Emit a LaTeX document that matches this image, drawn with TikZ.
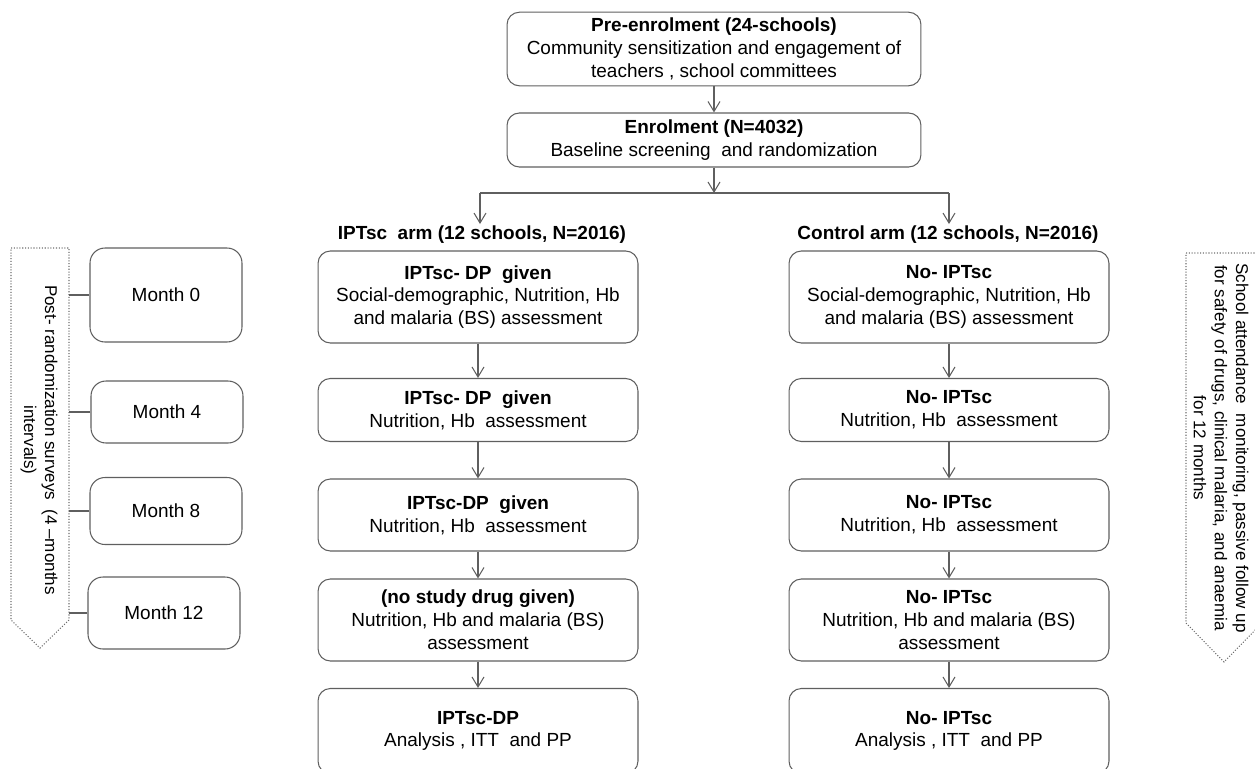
\documentclass[tikz,border=0pt]{standalone}
\usepackage{fontspec}
\setmainfont{Liberation Sans}
\usepackage{tikz}
\definecolor{flowgray}{RGB}{95,95,95}
\definecolor{dotgray}{RGB}{110,110,110}
\usetikzlibrary{positioning,calc,arrows.meta}

\begin{document}
\begin{tikzpicture}[x=0.02cm,y=-0.02cm,
  box/.style={draw=flowgray,rounded corners=7pt,line width=0.6pt,minimum width=6.4cm,align=center,font=\fontsize{10.8}{13}\selectfont},
  monthbox/.style={draw=flowgray,rounded corners=8.5pt,line width=0.6pt,minimum width=3.04cm,font=\fontsize{10.8}{13}\selectfont},
  head/.style={inner sep=1pt,font=\fontsize{10.8}{13}\selectfont\bfseries},
  side/.style={draw=dotgray,densely dotted,line width=0.6pt},
  sidetext/.style={rotate=-90,align=center,font=\fontsize{9.7}{12}\selectfont},
  arrow/.style={-{Straight Barb[length=2mm,width=2.4mm]},line width=0.6pt,color=flowgray},
  link/.style={line width=0.6pt,color=flowgray}
]
\useasboundingbox (0,0) rectangle (1255,768);
\clip (0,0) rectangle (1255,768);

\node[box,minimum width=8.28cm,minimum height=1.44cm] (pre) at (714,49) {\textbf{Pre-enrolment (24-schools)}\\Community sensitization and engagement of\\teachers , school committees};
\node[box,minimum width=8.28cm,minimum height=1.08cm] (enrol) at (714,140) {\textbf{Enrolment (N=4032)}\\Baseline screening~~and randomization};

\node[head] (headL) at (482,235) {IPTsc~~arm (12 schools, N=2016)};
\node[head] (headR) at (948,235) {Control arm (12 schools, N=2016)};

% IPTsc arm
\node[box,minimum height=1.84cm] (ipt0) at (478,297) {\textbf{IPTsc- DP~~given}\\Social-demographic, Nutrition, Hb\\and malaria (BS) assessment};
\node[box,minimum height=1.26cm] (ipt4) at (478,410) {\textbf{IPTsc- DP~~given}\\Nutrition, Hb~~assessment};
\node[box,minimum height=1.44cm] (ipt8) at (478,515) {\textbf{IPTsc-DP~~given}\\Nutrition, Hb~~assessment};
\node[box,minimum height=1.64cm] (ipt12) at (478,620) {\textbf{(no study drug given)}\\Nutrition, Hb and malaria (BS)\\assessment};
\node[box,minimum height=1.7cm] (iptend) at (478,731) {\textbf{IPTsc-DP}\\Analysis , ITT~~and PP};

% control arm
\node[box,minimum height=1.84cm] (ctl0) at (949,297) {\textbf{No- IPTsc}\\Social-demographic, Nutrition, Hb\\and malaria (BS) assessment};
\node[box,minimum height=1.26cm] (ctl4) at (949,410) {\textbf{No- IPTsc}\\Nutrition, Hb~~assessment};
\node[box,minimum height=1.44cm] (ctl8) at (949,515) {\textbf{No- IPTsc}\\Nutrition, Hb~~assessment};
\node[box,minimum height=1.64cm] (ctl12) at (949,620) {\textbf{No- IPTsc}\\Nutrition, Hb and malaria (BS)\\assessment};
\node[box,minimum height=1.7cm] (ctlend) at (949,731) {\textbf{No- IPTsc}\\Analysis , ITT~~and PP};

% survey months
\node[monthbox,minimum height=1.88cm] (m0) at (166,295) {Month 0};
\node[monthbox,minimum height=1.24cm] (m4) at (167,412) {Month 4};
\node[monthbox,minimum height=1.34cm] (m8) at (166,511) {Month 8};
\node[monthbox,minimum height=1.44cm] (m12) at (164,613) {Month 12};

\draw[side] (11,248) -- (69,248) -- (69,620) -- (40,648) -- (11,620) -- cycle;
\node[sidetext] (posttext) at (39,440) {Post- randomization surveys~~(4 –months\\intervals)};
\coordinate (postedge) at (69,248);
\foreach \m in {m0,m4,m8,m12}
  \draw[link] (\m.west) -- (\m.west -| postedge);

\draw[side] (1186,253) -- (1262,253) -- (1262,623) -- (1224,662) -- (1186,623) -- cycle;
\node[sidetext] (followtext) at (1221,448) {School attendance~~monitoring, passive follow up\\for safety of drugs, clinical malaria, and anaemia\\for 12 months};

\coordinate (split) at (714,193);
\coordinate (splitL) at (480,193);
\coordinate (splitR) at (949,193);
\draw[arrow] (pre) -- (enrol);
\draw[arrow] (enrol) -- (split);
\draw[link] (splitL) -- (splitR);
\draw[arrow] (splitL) -- (splitL |- headL.north);
\draw[arrow] (splitR) -- (splitR |- headR.north);
\foreach \a/\b in {ipt0/ipt4,ipt4/ipt8,ipt8/ipt12,ipt12/iptend,ctl0/ctl4,ctl4/ctl8,ctl8/ctl12,ctl12/ctlend}
  \draw[arrow] (\a) -- (\b);
\end{tikzpicture}
\end{document}
